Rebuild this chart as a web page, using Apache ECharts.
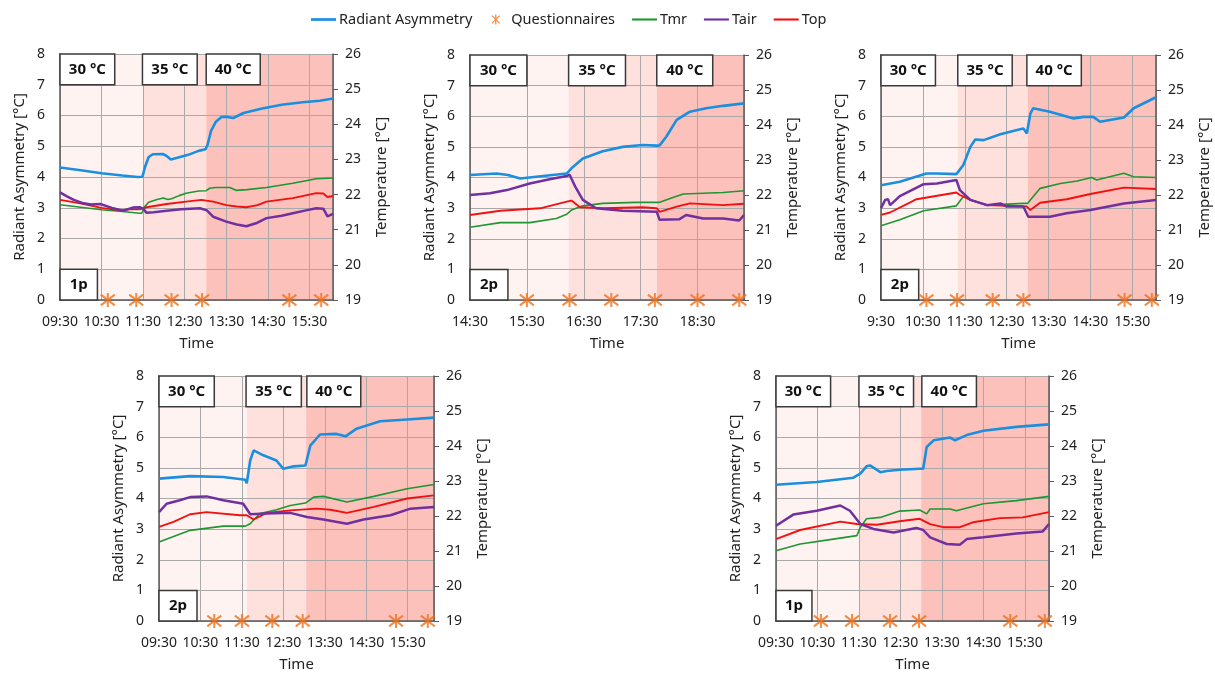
<!DOCTYPE html>
<html>
<head>
<meta charset="utf-8">
<script src="https://cdn.jsdelivr.net/npm/echarts@6/dist/echarts.min.js"></script>
<style>
  html, body { margin: 0; padding: 0; background: #fff; }
  #main { width: 1215px; height: 676px; }
</style>
</head>
<body>
<div id="main"></div>
<script>
// 数据：时间以分钟计（从每张图的起始时刻算起）
var stageLabels = ['30 °C', '35 °C', '40 °C'];
var seriesNames = ['Radiant Asymmetry', 'Questionnaires', 'Tmr', 'Tair', 'Top'];

// 图1 (1p, 09:30 起)
var p1Ticks = ['09:30', '10:30', '11:30', '12:30', '13:30', '14:30', '15:30'];
var p1RadAsym = [[0,4.31],[30,4.22],[60,4.12],[90,4.05],[112,4.0],[119,4.01],[123,4.35],[128,4.65],[134,4.74],[148,4.75],[153,4.7],[160,4.57],[168,4.62],[185,4.72],[200,4.85],[210,4.9],[213,5.05],[218,5.5],[225,5.8],[233,5.95],[240,5.96],[250,5.92],[265,6.08],[290,6.22],[320,6.35],[350,6.43],[375,6.48],[394,6.55]];
var p1Tmr = [[0,21.71],[30,21.64],[60,21.57],[90,21.52],[115,21.47],[118,21.47],[122,21.65],[128,21.78],[140,21.86],[149,21.9],[156,21.86],[161,21.88],[172,21.97],[182,22.04],[200,22.1],[211,22.11],[216,22.18],[225,22.2],[245,22.2],[254,22.12],[270,22.14],[298,22.2],[336,22.32],[370,22.45],[394,22.47]];
var p1Top = [[0,21.85],[15,21.8],[29,21.75],[60,21.62],[86,21.55],[100,21.58],[115,21.58],[125,21.64],[154,21.73],[182,21.8],[204,21.85],[221,21.8],[240,21.7],[255,21.66],[269,21.64],[285,21.7],[298,21.8],[336,21.9],[370,22.04],[380,22.03],[386,21.93],[394,21.96]];
var p1Tair = [[0,22.06],[10,21.95],[20,21.85],[34,21.75],[45,21.72],[58,21.73],[75,21.62],[91,21.54],[105,21.63],[115,21.64],[120,21.6],[125,21.48],[135,21.5],[154,21.54],[175,21.58],[202,21.61],[212,21.55],[221,21.37],[240,21.23],[255,21.15],[269,21.1],[285,21.2],[298,21.33],[320,21.4],[336,21.47],[355,21.55],[370,21.61],[380,21.6],[386,21.38],[394,21.45]];
var p1Quest = [69, 110, 161, 205, 331, 377];
var p1Stages = [0, 120, 211];

// 图2 (2p, 14:30 起)
var p2Ticks = ['14:30', '15:30', '16:30', '17:30', '18:30'];
var p2RadAsym = [[0,4.08],[28,4.13],[40,4.08],[53,3.97],[77,4.05],[102,4.13],[107,4.3],[119,4.62],[140,4.86],[161,5.0],[182,5.06],[197,5.04],[200,5.05],[207,5.33],[218,5.88],[232,6.15],[249,6.26],[267,6.34],[289,6.42]];
var p2Tmr = [[0,21.08],[32,21.21],[63,21.21],[91,21.33],[102,21.45],[107,21.57],[119,21.69],[140,21.76],[175,21.79],[200,21.79],[214,21.93],[225,22.03],[267,22.07],[289,22.12]];
var p2Top = [[0,21.43],[32,21.55],[74,21.62],[102,21.81],[107,21.84],[116,21.65],[140,21.62],[182,21.65],[197,21.62],[200,21.52],[218,21.67],[232,21.76],[267,21.71],[289,21.75]];
var p2Tair = [[0,22.0],[21,22.05],[39,22.14],[63,22.33],[84,22.45],[102,22.54],[105,22.58],[111,22.24],[119,21.86],[133,21.62],[161,21.55],[197,21.52],[200,21.29],[221,21.31],[228,21.43],[246,21.33],[267,21.33],[284,21.27],[289,21.43]];
var p2Quest = [60, 105, 149, 195, 240, 284];
var p2Stages = [0, 104, 197];

// 图3 (2p, 9:30 起)
var p3Ticks = ['9:30', '10:30', '11:30', '12:30', '13:30', '14:30', '15:30'];
var p3RadAsym = [[0,3.75],[27,3.86],[51,4.03],[65,4.13],[80,4.13],[108,4.11],[118,4.41],[128,5.0],[135,5.24],[147,5.22],[171,5.41],[195,5.55],[204,5.6],[209,5.44],[214,6.09],[218,6.26],[242,6.15],[276,5.93],[290,5.98],[304,5.98],[314,5.82],[348,5.96],[362,6.26],[394,6.62]];
var p3Tmr = [[0,21.12],[27,21.29],[61,21.55],[108,21.69],[118,21.96],[128,21.86],[152,21.71],[204,21.76],[210,21.76],[214,21.86],[228,22.19],[257,22.33],[281,22.4],[302,22.5],[309,22.43],[348,22.62],[362,22.52],[394,22.5]];
var p3Top = [[0,21.43],[13,21.5],[51,21.88],[108,22.07],[113,22.0],[128,21.86],[152,21.71],[209,21.67],[214,21.57],[228,21.78],[266,21.88],[300,22.03],[348,22.21],[394,22.17]];
var p3Tair = [[0,21.62],[6,21.86],[10,21.88],[13,21.71],[27,21.97],[61,22.31],[80,22.33],[108,22.43],[113,22.14],[128,21.86],[152,21.71],[171,21.76],[180,21.67],[204,21.67],[211,21.38],[242,21.38],[266,21.48],[300,21.57],[348,21.76],[394,21.86]];
var p3Quest = [65, 109, 160, 204, 349, 388];
var p3Stages = [0, 110, 210];

// 图4 (2p, 09:30 起)
var p4Ticks = ['09:30', '10:30', '11:30', '12:30', '13:30', '14:30', '15:30'];
var p4RadAsym = [[0,4.65],[45,4.73],[93,4.7],[125,4.61],[127,4.5],[132,5.24],[137,5.57],[151,5.41],[170,5.24],[180,4.97],[195,5.05],[212,5.08],[219,5.73],[233,6.09],[257,6.11],[270,6.03],[286,6.28],[320,6.52],[359,6.58],[398,6.64]];
var p4Tmr = [[0,21.26],[45,21.59],[93,21.71],[125,21.71],[132,21.78],[146,22.07],[170,22.18],[190,22.3],[212,22.37],[224,22.54],[238,22.56],[272,22.4],[311,22.56],[359,22.78],[398,22.9]];
var p4Top = [[0,21.69],[21,21.83],[45,22.05],[69,22.11],[117,22.02],[127,22.02],[137,21.9],[156,22.09],[190,22.16],[228,22.21],[248,22.18],[272,22.09],[311,22.26],[359,22.5],[398,22.59]];
var p4Tair = [[0,22.11],[11,22.35],[30,22.45],[45,22.54],[69,22.56],[93,22.45],[122,22.35],[132,22.05],[156,22.07],[190,22.09],[214,21.97],[238,21.9],[272,21.78],[296,21.9],[335,22.02],[364,22.21],[398,22.26]];
var p4Quest = [80, 120, 164, 208, 343, 389];
var p4Stages = [0, 127, 213];

// 图5 (1p, 09:30 起)
var p5Ticks = ['09:30', '10:30', '11:30', '12:30', '13:30', '14:30', '15:30'];
var p5RadAsym = [[0,4.45],[59,4.54],[112,4.68],[122,4.81],[131,5.05],[136,5.08],[151,4.86],[160,4.9],[179,4.94],[208,4.97],[213,4.97],[218,5.68],[228,5.9],[252,5.99],[259,5.9],[276,6.07],[300,6.21],[348,6.34],[395,6.42]];
var p5Tmr = [[0,21.01],[35,21.2],[83,21.34],[117,21.44],[122,21.68],[131,21.92],[151,21.96],[179,22.14],[208,22.17],[218,22.06],[223,22.2],[252,22.2],[261,22.15],[300,22.35],[348,22.44],[395,22.56]];
var p5Top = [[0,21.34],[35,21.6],[93,21.84],[117,21.77],[146,21.75],[179,21.85],[208,21.92],[223,21.77],[242,21.68],[266,21.68],[285,21.82],[324,21.94],[357,21.96],[395,22.11]];
var p5Tair = [[0,21.72],[25,22.04],[59,22.15],[93,22.3],[107,22.15],[122,21.77],[141,21.63],[170,21.53],[203,21.66],[213,21.6],[223,21.39],[247,21.2],[266,21.18],[276,21.34],[300,21.39],[348,21.5],[386,21.56],[395,21.77]];
var p5Quest = [65, 110, 165, 207, 339, 389];
var p5Stages = [0, 120, 210];

// 布局与样式
var FONT = 'Noto Sans';
var TXT = '#222';
var GRIDC = '#a9a9a9';
var AXISC = '#5a5a5a';
var bandColors = ['#fff3f1', '#fee1dd', '#fcc1ba'];
var lineColors = { 'Radiant Asymmetry': '#1a8fe0', 'Questionnaires': '#f07018', 'Tmr': '#1e9632', 'Tair': '#7030a0', 'Top': '#f21010' };
var asterisk = 'path://M0,0L10,10M10,0L0,10M5,-1.5L5,11.5';
var legendLine = 'path://M0,0L26,0L26,2.2L0,2.2Z';

var panels = [
  { grid: { left: 60, top: 54, width: 273, height: 246 }, max: 394, ticks: p1Ticks, rad: p1RadAsym, tmr: p1Tmr, tair: p1Tair, top: p1Top, quest: p1Quest, stages: p1Stages, who: '1p', boxes: [[0,79],[119,198],[211,289]], whoBox: 54 },
  { grid: { left: 470, top: 55, width: 274, height: 245 }, max: 289, ticks: p2Ticks, rad: p2RadAsym, tmr: p2Tmr, tair: p2Tair, top: p2Top, quest: p2Quest, stages: p2Stages, who: '2p', boxes: [[0,60],[104,164],[197,256]], whoBox: 40 },
  { grid: { left: 881, top: 55, width: 275, height: 245 }, max: 394, ticks: p3Ticks, rad: p3RadAsym, tmr: p3Tmr, tair: p3Tair, top: p3Top, quest: p3Quest, stages: p3Stages, who: '2p', boxes: [[0,78],[110,188],[209,287]], whoBox: 54 },
  { grid: { left: 159, top: 376, width: 275, height: 245 }, max: 398, ticks: p4Ticks, rad: p4RadAsym, tmr: p4Tmr, tair: p4Tair, top: p4Top, quest: p4Quest, stages: p4Stages, who: '2p', boxes: [[0,80],[126,206],[214,292]], whoBox: 55 },
  { grid: { left: 776, top: 376, width: 273, height: 245 }, max: 395, ticks: p5Ticks, rad: p5RadAsym, tmr: p5Tmr, tair: p5Tair, top: p5Top, quest: p5Quest, stages: p5Stages, who: '1p', boxes: [[0,79],[120,199],[211,290]], whoBox: 52 }
];

var grids = [], xAxes = [], yAxes = [], series = [];

function boxLabel() {
  return { show: true, position: 'inside', color: '#111', fontFamily: FONT, fontSize: 15, fontWeight: 'bold' };
}

panels.forEach(function (p, i) {
  grids.push(p.grid);

  xAxes.push({
    gridIndex: i, type: 'value', min: 0, max: p.max, interval: 60,
    name: 'Time', nameLocation: 'middle', nameGap: 36,
    nameTextStyle: { color: TXT, fontFamily: FONT, fontSize: 15 },
    axisLine: { show: true, lineStyle: { color: AXISC, width: 1.5 } },
    axisTick: { show: false },
    axisLabel: {
      color: TXT, fontFamily: FONT, fontSize: 14, margin: 15, showMaxLabel: false,
      formatter: function (v) { return v % 60 === 0 ? (p.ticks[v / 60] || '') : ''; }
    },
    splitLine: { show: true, lineStyle: { color: GRIDC, width: 1 } }
  });

  yAxes.push({
    gridIndex: i, type: 'value', position: 'left', min: 0, max: 8, interval: 1,
    name: 'Radiant Asymmetry [°C]', nameLocation: 'middle', nameGap: 33, nameRotate: 90,
    nameTextStyle: { color: TXT, fontFamily: FONT, fontSize: 15 },
    axisLine: { show: true, lineStyle: { color: AXISC, width: 1.5 } },
    axisTick: { show: false },
    axisLabel: { color: TXT, fontFamily: FONT, fontSize: 14, margin: 15 },
    splitLine: { show: true, lineStyle: { color: GRIDC, width: 1 } }
  });
  yAxes.push({
    gridIndex: i, type: 'value', position: 'right', min: 19, max: 26, interval: 1,
    name: 'Temperature [°C]', nameLocation: 'middle', nameGap: 41, nameRotate: 90,
    nameTextStyle: { color: TXT, fontFamily: FONT, fontSize: 15 },
    axisLine: { show: true, lineStyle: { color: AXISC, width: 1.5 } },
    axisTick: { show: true, length: 5, lineStyle: { color: AXISC } },
    axisLabel: { color: TXT, fontFamily: FONT, fontSize: 14, margin: 12 },
    splitLine: { show: false }
  });

  var ends = p.stages.concat([p.max]);
  var bands = [];
  for (var k = 0; k < 3; k++) {
    bands.push([{ xAxis: ends[k], yAxis: 0, itemStyle: { color: bandColors[k] } }, { xAxis: ends[k + 1], yAxis: 8 }]);
  }
  var boxes = p.boxes.map(function (b, k) {
    return [{ name: stageLabels[k], xAxis: b[0], yAxis: 7 }, { xAxis: b[1], yAxis: 8 }];
  });
  boxes.push([{ name: p.who, xAxis: 0, yAxis: 0 }, { xAxis: p.whoBox, yAxis: 1 }]);

  // 背景阶段色带（放在网格线下面）
  series.push({
    type: 'line', name: 'bands', xAxisIndex: i, yAxisIndex: 2 * i, data: [], silent: true,
    markArea: { silent: true, z: -1, label: { show: false }, data: bands }
  });
  // 温度标签框
  series.push({
    type: 'line', name: 'boxes', xAxisIndex: i, yAxisIndex: 2 * i, data: [], silent: true,
    markArea: {
      silent: true, z: 6, label: boxLabel(),
      itemStyle: { color: '#fff', borderColor: '#3a3a3a', borderWidth: 1.5 },
      data: boxes
    }
  });

  series.push({
    type: 'line', name: 'Tmr', xAxisIndex: i, yAxisIndex: 2 * i + 1, data: p.tmr,
    showSymbol: false, symbol: 'none', z: 3, lineStyle: { color: lineColors.Tmr, width: 1.6 }, itemStyle: { color: lineColors.Tmr }
  });
  series.push({
    type: 'line', name: 'Top', xAxisIndex: i, yAxisIndex: 2 * i + 1, data: p.top,
    showSymbol: false, symbol: 'none', z: 3, lineStyle: { color: lineColors.Top, width: 1.9 }, itemStyle: { color: lineColors.Top }
  });
  series.push({
    type: 'line', name: 'Tair', xAxisIndex: i, yAxisIndex: 2 * i + 1, data: p.tair,
    showSymbol: false, symbol: 'none', z: 3, lineStyle: { color: lineColors.Tair, width: 2.5 }, itemStyle: { color: lineColors.Tair }
  });
  series.push({
    type: 'line', name: 'Radiant Asymmetry', xAxisIndex: i, yAxisIndex: 2 * i, data: p.rad,
    showSymbol: false, symbol: 'none', z: 4, lineStyle: { color: lineColors['Radiant Asymmetry'], width: 2.6 }, itemStyle: { color: lineColors['Radiant Asymmetry'] }
  });
  series.push({
    type: 'scatter', name: 'Questionnaires', xAxisIndex: i, yAxisIndex: 2 * i, clip: false, z: 7,
    data: p.quest.map(function (t) { return [t, 0]; }),
    symbol: asterisk, symbolSize: 14,
    itemStyle: { color: 'none', borderColor: lineColors.Questionnaires, borderWidth: 2 }
  });
});

var chart = echarts.init(document.getElementById('main'));
chart.setOption({
  animation: false,
  textStyle: { fontFamily: FONT },
  legend: {
    top: 7, left: 306, itemGap: 17, itemWidth: 25, itemHeight: 10,
    textStyle: { color: TXT, fontFamily: FONT, fontSize: 14.5, padding: [0, 0, 0, -2] },
    data: [
      { name: 'Radiant Asymmetry', icon: 'path://M0,0L26,0L26,2.8L0,2.8Z' },
      { name: 'Questionnaires', icon: asterisk, itemStyle: { color: 'none', borderColor: lineColors.Questionnaires, borderWidth: 1.3 } },
      { name: 'Tmr', icon: legendLine }, { name: 'Tair', icon: legendLine }, { name: 'Top', icon: legendLine }
    ]
  },
  grid: grids,
  xAxis: xAxes,
  yAxis: yAxes,
  series: series
});
</script>
</body>
</html>
